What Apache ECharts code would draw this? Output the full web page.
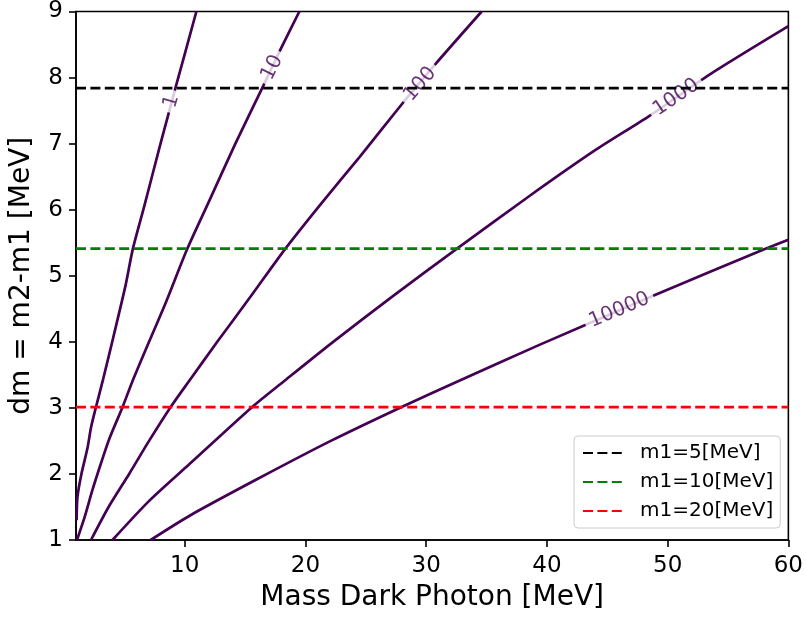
<!DOCTYPE html>
<html>
<head>
<meta charset="utf-8">
<script src="https://cdn.jsdelivr.net/npm/echarts@6/dist/echarts.min.js"></script>
<style>
html,body{margin:0;padding:0;background:#fff;}
#chart{width:806px;height:619px;}
</style>
</head>
<body>
<div id="chart"></div>
<script>
// ---- data ----
const xRange = [1, 60];
const yRange = [1, 9];
const xTickValues = [10, 20, 30, 40, 50, 60];
const xAxisTitle = 'Mass Dark Photon [MeV]';
const yAxisTitle = 'dm = m2-m1 [MeV]';

const contourLevels = ['1', '10', '100', '1000', '10000'];
const contour1 = [[1.05,1.3],[1.12,1.65],[1.45,2.0],[1.96,2.4],[2.24,2.7],[2.65,3.01],[3.2,3.4],[4.13,4.1],[5.1,4.85],[5.7,5.4],[6.65,6.05],[8.0,7.0],[9.25,7.85],[10.97,9.0]];
const contour10 = [[1.08,1.0],[1.72,1.35],[2.35,1.75],[3.05,2.15],[3.8,2.55],[4.85,3.01],[5.67,3.4],[7.05,4.0],[8.45,4.6],[10.2,5.4],[11.95,6.1],[14.2,7.0],[16.5,7.87],[18.0,8.45],[19.5,9.0]];
const contour100 = [[2.24,1.0],[3.7,1.5],[5.4,2.0],[7.05,2.5],[8.83,3.01],[10.34,3.4],[12.7,4.0],[15.4,4.67],[18.3,5.4],[21.34,6.1],[24.5,6.8],[28.0,7.6],[30.75,8.2],[34.6,9.0]];
const contour1000 = [[4.02,1.0],[7.1,1.6],[10.4,2.15],[15.57,3.01],[18.2,3.4],[22.3,4.0],[27.3,4.7],[32.47,5.4],[38.5,6.2],[44.0,6.9],[48.5,7.42],[53.5,8.05],[60,8.78]];
const contour10000 = [[7.18,1.0],[10.48,1.375],[16.1,1.93],[22.1,2.5],[27.93,3.01],[32.6,3.4],[39.33,3.95],[48.95,4.71],[58.0,5.4],[60,5.545]];
const contourLabelPos = [[8.9,7.64],[17.25,8.15],[29.5,7.9],[50.7,7.7],[46.0,4.48]];

const hLineNames = ['m1=5[MeV]', 'm1=10[MeV]', 'm1=20[MeV]'];
const hLineValues = [7.84, 5.41, 3.01];

// ---- styles ----
const contourColor = '#440154';
const hLineColors = ['#000000', '#008000', '#ff0000'];
const labelAngles = [74, 64, 49, 34, 23];
const FONT = 'DejaVu Sans';

const contourData = [contour1, contour10, contour100, contour1000, contour10000];

const series = [];
contourData.forEach(function (d, i) {
  series.push({
    name: 'level ' + contourLevels[i],
    type: 'line',
    data: d,
    showSymbol: false,
    symbol: 'none',
    smooth: 0.25,
    z: 1,
    lineStyle: { color: contourColor, width: 2.7 },
    silent: true
  });
});
series.push({
  name: 'labels',
  type: 'scatter',
  symbolSize: 0,
  z: 2,
  silent: true,
  data: contourLabelPos.map(function (p, i) {
    return {
      value: p,
      label: {
        show: true,
        position: 'inside',
        formatter: contourLevels[i],
        rotate: labelAngles[i],
        color: contourColor,
        fontFamily: FONT,
        fontSize: 20,
        backgroundColor: '#ffffff',
        padding: [0, 5]
      }
    };
  })
});
hLineNames.forEach(function (n, i) {
  series.push({
    name: n,
    type: 'line',
    data: [[xRange[0], hLineValues[i]], [xRange[1], hLineValues[i]]],
    showSymbol: false,
    symbol: 'none',
    z: 3,
    silent: true,
    lineStyle: { color: hLineColors[i], width: 2.7, type: [10, 4.4] },
    itemStyle: { color: hLineColors[i] }
  });
});

const chart = echarts.init(document.getElementById('chart'), null, { renderer: 'canvas' });
chart.setOption({
  animation: false,
  backgroundColor: '#ffffff',
  textStyle: { fontFamily: FONT },
  grid: {
    left: 75, right: 16, top: 7, bottom: 79,
    show: true, borderColor: '#000', borderWidth: 1.6, backgroundColor: 'transparent'
  },
  legend: {
    data: hLineNames,
    orient: 'vertical',
    left: 574, top: 436,
    itemWidth: 40, itemHeight: 16, itemGap: 9,
    padding: [7, 7, 7, 8],
    borderColor: '#cccccc', borderWidth: 1, borderRadius: 4,
    backgroundColor: 'rgba(255,255,255,0.8)',
    itemStyle: { opacity: 0 },
    textStyle: { fontFamily: FONT, fontSize: 20, color: '#000', padding: [0, 0, 0, 12] }
  },
  xAxis: {
    type: 'value',
    min: xRange[0], max: xRange[1],
    name: xAxisTitle, nameLocation: 'middle', nameGap: 44,
    nameTextStyle: { fontFamily: FONT, fontSize: 28, color: '#000' },
    axisLine: { show: true, lineStyle: { color: '#000', width: 1.6 } },
    axisTick: { show: true, length: 7, lineStyle: { color: '#000', width: 1.6 }, customValues: xTickValues },
    axisLabel: { fontFamily: FONT, fontSize: 23, color: '#000', margin: 15, customValues: xTickValues },
    splitLine: { show: false }
  },
  yAxis: {
    type: 'value',
    min: yRange[0], max: yRange[1], interval: 1,
    name: yAxisTitle, nameLocation: 'middle', nameGap: 40,
    nameTextStyle: { fontFamily: FONT, fontSize: 28, color: '#000' },
    axisLine: { show: true, lineStyle: { color: '#000', width: 1.6 } },
    axisTick: { show: true, length: 7, lineStyle: { color: '#000', width: 1.6 } },
    axisLabel: { fontFamily: FONT, fontSize: 23, color: '#000', margin: 13 },
    splitLine: { show: false }
  },
  series: series
});
</script>
</body>
</html>
